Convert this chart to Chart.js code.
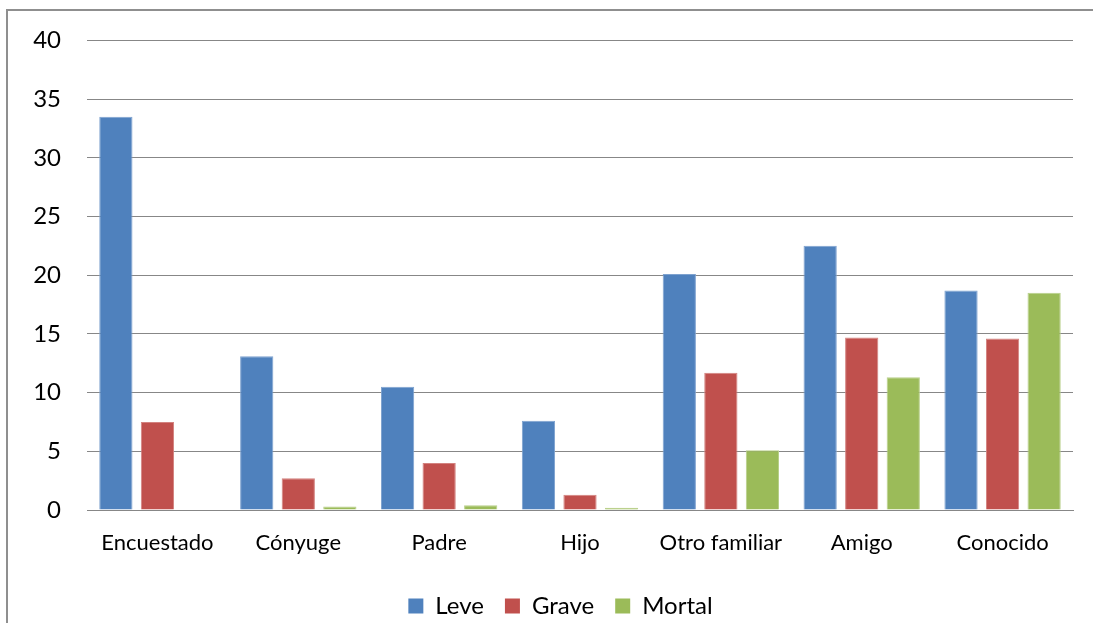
<!DOCTYPE html>
<html>
<head>
<meta charset="utf-8">
<script src="https://cdn.jsdelivr.net/npm/chart.js@4/dist/chart.umd.min.js"></script>
<style>
  html, body { margin: 0; padding: 0; background: #ffffff; overflow: hidden; width: 1093px; height: 623px; }
  #frame { position: absolute; left: 6px; top: 9px; width: 1200px; height: 700px; border: 2px solid #8f8f8f; box-sizing: border-box; }
  #chart { position: absolute; left: 0; top: 0; }
</style>
</head>
<body>
<div id="frame"></div>
<canvas id="chart" width="1093" height="628"></canvas>
<script>
// Relación con la víctima y gravedad de las lesiones
const categories = ['Encuestado', 'Cónyuge', 'Padre', 'Hijo', 'Otro familiar', 'Amigo', 'Conocido'];
const leve   = [33.5, 13.1, 10.5, 7.6, 20.1, 22.5, 18.7];
const grave  = [7.5, 2.7, 4.0, 1.3, 11.7, 14.7, 14.6];
const mortal = [0, 0.3, 0.4, 0.2, 5.1, 11.3, 18.5];
const yTicks = [0, 5, 10, 15, 20, 25, 30, 35, 40];

const FONT = 'Lato';
const GRID = '#878787';

function bars(label, data, fill, edge) {
  return {
    label, data,
    backgroundColor: fill,
    borderColor: edge,
    borderWidth: 1,
    categoryPercentage: 0.885,
    barPercentage: 0.8
  };
}

// nudge the legend row to the right of the plot's centre line
const legendShift = {
  id: 'legendShift',
  afterLayout(chart) {
    const lg = chart.legend;
    if (lg) { lg.left += 24; lg.right += 24; }
  }
};

function draw() {
  new Chart(document.getElementById('chart'), {
    type: 'bar',
    data: {
      labels: categories,
      datasets: [
        bars('Leve', leve, '#4F81BD', '#7EA2CF'),
        bars('Grave', grave, '#C0504D', '#D3827F'),
        bars('Mortal', mortal, '#9BBB59', '#B8D08A')
      ]
    },
    plugins: [legendShift],
    options: {
      responsive: false,
      animation: false,
      layout: { padding: { left: 0, right: 20, top: 38, bottom: 0 } },
      scales: {
        x: {
          grid: { display: false, drawTicks: false },
          border: { display: true, color: GRID, width: 1 },
          ticks: { color: '#000', font: { family: FONT, size: 22 }, padding: 20, maxRotation: 0 },
          afterFit(scale) { scale.height = 63; }
        },
        y: {
          min: 0, max: 40,
          afterBuildTicks(scale) { scale.ticks = yTicks.map(v => ({ value: v })); },
          grid: { color: GRID, lineWidth: 1, drawTicks: false },
          border: { display: false },
          ticks: { color: '#000', font: { family: FONT, size: 24 }, padding: 26 },
          afterFit(scale) { scale.width = 87; }
        }
      },
      plugins: {
        tooltip: { enabled: false },
        legend: {
          position: 'bottom',
          labels: {
            color: '#000',
            font: { family: FONT, size: 24 },
            boxWidth: 15, boxHeight: 15,
            padding: 21,
            generateLabels(chart) {
              const items = Chart.defaults.plugins.legend.labels.generateLabels(chart);
              items.forEach(i => { i.strokeStyle = i.fillStyle; i.lineWidth = 0; });
              return items;
            }
          }
        }
      }
    }
  });
}

if (document.fonts && document.fonts.load) {
  Promise.all([document.fonts.load('22px Lato'), document.fonts.load('24px Lato')]).then(draw, draw);
} else {
  draw();
}
</script>
</body>
</html>
